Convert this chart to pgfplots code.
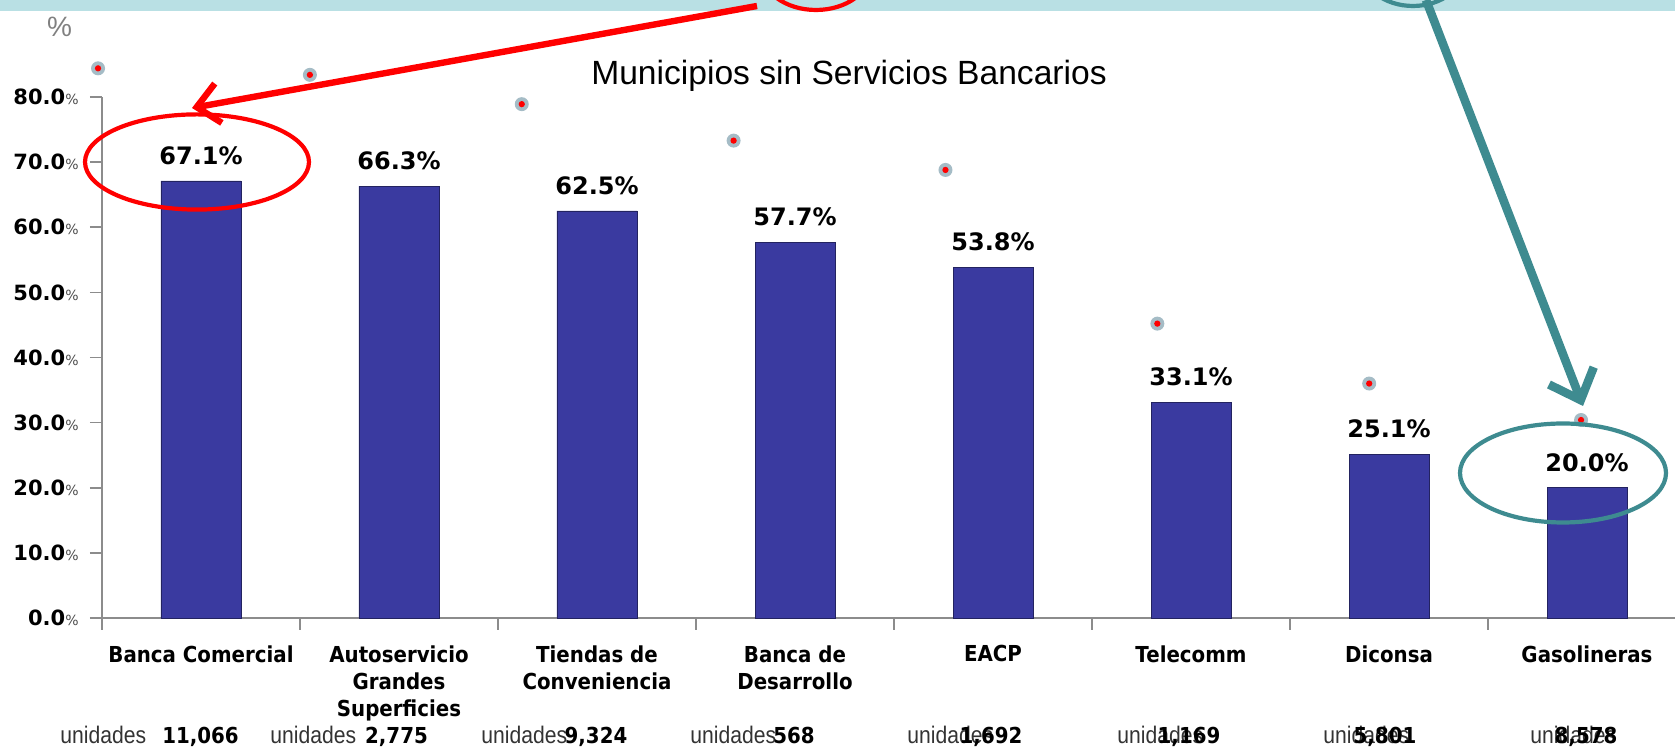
\documentclass[border=0pt]{standalone}
\usepackage{pgfplots}
\pgfplotsset{compat=1.18}
\usepackage{fontspec}
\setmainfont{Liberation Sans}
\newfontfamily\vfont{DejaVu Sans}
\newfontfamily\vnarrow[FakeStretch=0.9]{DejaVu Sans}
\newfontfamily\unifont[FakeStretch=0.88]{Liberation Sans}
\usetikzlibrary{arrows.meta}

\definecolor{barblue}{RGB}{58,58,160}
\definecolor{band}{RGB}{185,224,228}
\definecolor{tealarrow}{RGB}{62,139,144}
\definecolor{axgray}{RGB}{140,140,140}
\definecolor{halo}{RGB}{165,188,198}

% grey halo with a red centre
\pgfdeclareplotmark{halodot}{%
  \pgfpathcircle{\pgfpointorigin}{\pgfplotmarksize}%
  \pgfsetfillcolor{halo}\pgfusepathqfill
  \pgfpathcircle{\pgfpointorigin}{0.45\pgfplotmarksize}%
  \pgfsetfillcolor{red}\pgfusepathqfill}

\newcommand\pct{{\mdseries\fontsize{7}{8}\selectfont\color{black!70}\%}}

\begin{document}
\begin{tikzpicture}
\path[use as bounding box] (-51pt,-64.5pt) rectangle (786.5pt,309pt);
\fill[band] (-51pt,303.5pt) rectangle (786.5pt,309pt);

\begin{axis}[
  at={(0,0)}, anchor=south west, scale only axis,
  width=792pt, height=260.5pt,
  xmin=-0.5, xmax=7.5, ymin=0, ymax=80,
  axis x line*=bottom, axis y line*=left,
  axis line style={axgray, line width=1pt},
  clip=false,
  tick align=outside,
  major tick length=0pt, minor tick length=6pt,
  tick style={axgray, line width=0.8pt},
  ytick={0,10,...,80},
  minor ytick={0,10,...,80},
  yticklabels={0.0\pct,10.0\pct,20.0\pct,30.0\pct,40.0\pct,50.0\pct,60.0\pct,70.0\pct,80.0\pct},
  yticklabel style={font=\vfont\bfseries\fontsize{10.5}{12}\selectfont, anchor=east, inner sep=0pt, xshift=-11.5pt},
  xtick={0,...,7},
  minor xtick={-0.5,0.5,...,7.5},
  xticklabels={Banca Comercial, Autoservicio\\Grandes\\Superficies, Tiendas de\\Conveniencia, Banca de\\Desarrollo, EACP, Telecomm, Diconsa, Gasolineras},
  xticklabel style={font=\vnarrow\bfseries\fontsize{11}{13.5}\selectfont, align=center, anchor=north, inner sep=0pt, yshift=-13.5pt},
]
\addplot[ybar, bar width=40pt, fill=barblue, draw=barblue!60!black,
  nodes near coords={\pgfmathprintnumber[fixed,fixed zerofill,precision=1,assume math mode=true]{\pgfplotspointmeta}\%},
  every node near coord/.append style={font=\vfont\bfseries\fontsize{12}{14}\selectfont, text=black, anchor=south, inner sep=0pt, yshift=8pt}]
coordinates {(0,67.1)(1,66.3)(2,62.5)(3,57.7)(4,53.8)(5,33.1)(6,25.1)(7,20.0)};

\addplot[only marks, mark=halodot, mark size=3.5pt]
coordinates {(-0.52,84.4)(0.55,83.4)(1.62,78.9)(2.69,73.3)(3.76,68.8)(4.83,45.2)(5.90,36.0)(6.97,30.4)};
\end{axis}

\node[font=\fontsize{16.8}{18}\selectfont, anchor=base] at (373.5pt,266.5pt) {Municipios sin Servicios Bancarios};
\node[text=gray, font=\fontsize{14}{16}\selectfont] at (-21.25pt,295.75pt) {\%};

\foreach \x/\n/\c in {-21/{11,066}/49.25, 84/{2,775}/147.25, 189.5/{9,324}/247, 294/{568}/346,
    402.5/{1,692}/444.5, 507.5/{1,169}/543.5, 610.5/{5,801}/641.5, 714/{8,578}/742} {
  \node[anchor=base west, font=\unifont\fontsize{12}{14}\selectfont, text=black!80, inner sep=0pt] at (\x pt,-62.7pt) {unidades};
  \node[anchor=base, font=\vnarrow\bfseries\fontsize{11}{13}\selectfont, inner sep=0pt] at (\c pt,-62.7pt) {\n};
}

\begin{scope}
\clip (-51pt,-64.5pt) rectangle (786.5pt,309pt);
\draw[red, line width=2.1pt] (47.5pt,228pt) ellipse [x radius=56pt, y radius=23.8pt];
\draw[red, line width=3.2pt, -{Straight Barb[length=11pt,width=20pt]}] (327.5pt,306pt) -- (45pt,255pt);
\draw[red, line width=2.1pt] (357pt,324pt) ellipse [x radius=27.5pt, y radius=20pt];
\draw[tealarrow, line width=2.1pt] (730.5pt,72.5pt) ellipse [x radius=51.5pt, y radius=24.75pt];
\draw[tealarrow, line width=4.3pt, -{Straight Barb[length=13pt,width=24pt]}] (662pt,309pt) -- (740.5pt,106pt);
\draw[tealarrow, line width=2.1pt] (655.5pt,326pt) ellipse [x radius=26pt, y radius=20pt];
\end{scope}
\end{tikzpicture}
\end{document}
